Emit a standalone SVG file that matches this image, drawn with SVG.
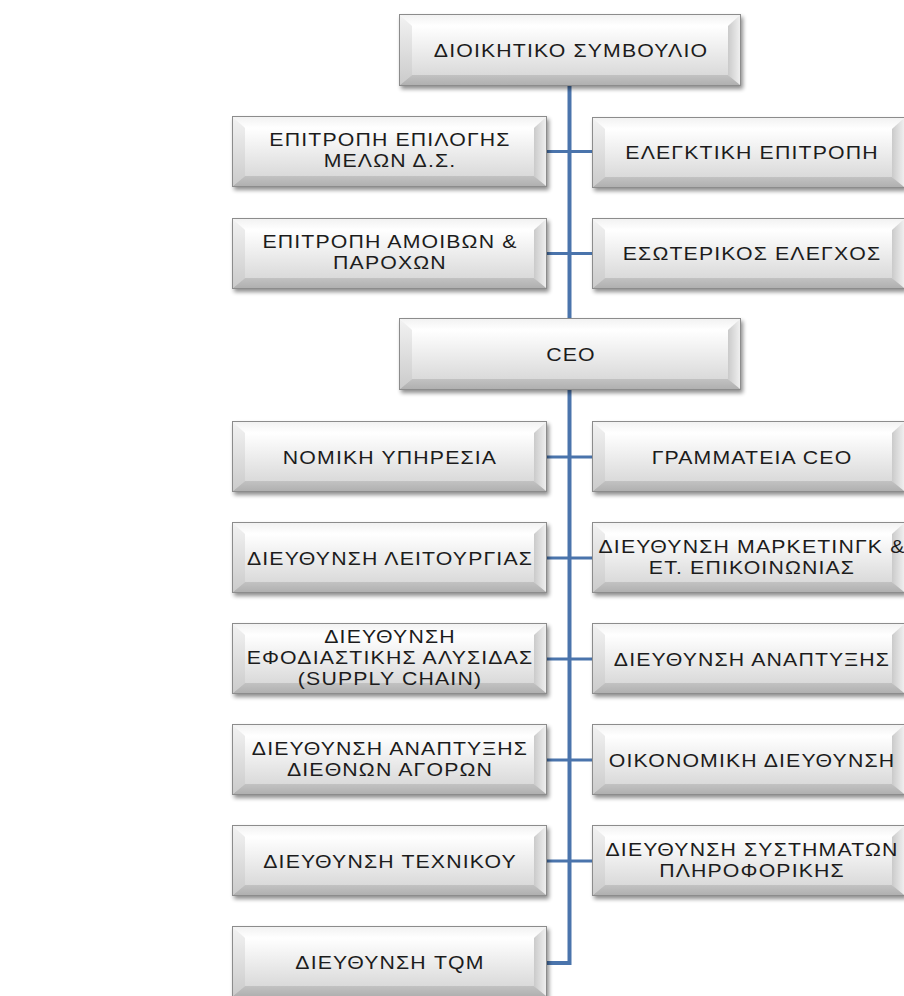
<svg xmlns="http://www.w3.org/2000/svg" xmlns:xlink="http://www.w3.org/1999/xlink" width="904" height="996" viewBox="0 0 904 996">
<defs>
<linearGradient id="face" x1="0" y1="0" x2="0" y2="1"><stop offset="0" stop-color="#ffffff"/><stop offset="1" stop-color="#dadada"/></linearGradient>
<linearGradient id="topF" x1="0" y1="0" x2="0" y2="1"><stop offset="0" stop-color="#f2f2f2"/><stop offset="1" stop-color="#ffffff"/></linearGradient>
<linearGradient id="leftF" x1="0" y1="0" x2="0" y2="1"><stop offset="0" stop-color="#f2f2f2"/><stop offset="1" stop-color="#cbcbcb"/></linearGradient>
<linearGradient id="rightF" x1="0" y1="0" x2="1" y2="0"><stop offset="0" stop-color="#cacaca"/><stop offset="1" stop-color="#efefef"/></linearGradient>
<linearGradient id="botF" x1="0" y1="0" x2="0" y2="1"><stop offset="0" stop-color="#c2c2c2"/><stop offset="1" stop-color="#b0b0b0"/></linearGradient>
<filter id="sh" x="-5%" y="-10%" width="115%" height="140%"><feGaussianBlur in="SourceAlpha" stdDeviation="2"/><feOffset dx="2" dy="3" result="b"/><feComponentTransfer><feFuncA type="linear" slope="0.45"/></feComponentTransfer><feMerge><feMergeNode/><feMergeNode in="SourceGraphic"/></feMerge></filter>
<symbol id="bevL" overflow="visible">
<g filter="url(#sh)">
<rect x="0.5" y="0.5" width="314" height="70" fill="url(#face)" stroke="#8c8c8c"/>
<polygon points="1,1 314,1 302,12 13,12" fill="url(#topF)"/>
<polygon points="1,1 13,12 13,60 1,70" fill="url(#leftF)"/>
<polygon points="314,1 314,70 302,60 302,12" fill="url(#rightF)"/>
<polygon points="1,70 13,60 302,60 314,70" fill="url(#botF)"/>
<rect x="13" y="12" width="289" height="48" fill="url(#face)"/>
</g>
</symbol>
<symbol id="bevR" overflow="visible">
<g filter="url(#sh)">
<rect x="0.5" y="0.5" width="312" height="70" fill="url(#face)" stroke="#8c8c8c"/>
<polygon points="1,1 312,1 300,12 13,12" fill="url(#topF)"/>
<polygon points="1,1 13,12 13,60 1,70" fill="url(#leftF)"/>
<polygon points="312,1 312,70 300,60 300,12" fill="url(#rightF)"/>
<polygon points="1,70 13,60 300,60 312,70" fill="url(#botF)"/>
<rect x="13" y="12" width="287" height="48" fill="url(#face)"/>
</g>
</symbol>
<symbol id="bevC" overflow="visible">
<g filter="url(#sh)">
<rect x="0.5" y="0.5" width="341" height="71" fill="url(#face)" stroke="#8c8c8c"/>
<polygon points="1,1 341,1 329,12 13,12" fill="url(#topF)"/>
<polygon points="1,1 13,12 13,61 1,71" fill="url(#leftF)"/>
<polygon points="341,1 341,71 329,61 329,12" fill="url(#rightF)"/>
<polygon points="1,71 13,61 329,61 341,71" fill="url(#botF)"/>
<rect x="13" y="12" width="316" height="49" fill="url(#face)"/>
</g>
</symbol>
</defs>
<style>
text{font-family:"Liberation Sans",Arial,sans-serif;font-size:18.5px;letter-spacing:1px;fill:#1c1c1c;text-anchor:middle;transform-box:fill-box;transform-origin:center;transform:scaleX(1.15)}
.ln{stroke:#4a74ac;fill:none}
.v{stroke-width:4}
.h{stroke-width:3}
</style>
<rect width="904" height="996" fill="#ffffff"/>
<g id="connectors">
<polyline class="ln v" points="569.5,85 569.5,963 547,963"/>
<line class="ln h" x1="547" y1="151.5" x2="592" y2="151.5"/>
<line class="ln h" x1="547" y1="253.5" x2="592" y2="253.5"/>
<line class="ln h" x1="547" y1="457" x2="592" y2="457"/>
<line class="ln h" x1="547" y1="558" x2="592" y2="558"/>
<line class="ln h" x1="547" y1="659" x2="592" y2="659"/>
<line class="ln h" x1="547" y1="760" x2="592" y2="760"/>
<line class="ln h" x1="547" y1="861" x2="592" y2="861"/>
</g>
<g id="board"><use xlink:href="#bevC" x="399" y="14"/><text x="571" y="57">ΔΙΟΙΚΗΤΙΚΟ ΣΥΜΒΟΥΛΙΟ</text></g>
<g id="selection"><use xlink:href="#bevL" x="232" y="116"/><text x="390" y="146">ΕΠΙΤΡΟΠΗ ΕΠΙΛΟΓΗΣ<tspan x="390" dy="21">ΜΕΛΩΝ Δ.Σ.</tspan></text></g>
<g id="audit"><use xlink:href="#bevR" x="592" y="117"/><text x="752" y="159">ΕΛΕΓΚΤΙΚΗ ΕΠΙΤΡΟΠΗ</text></g>
<g id="remuneration"><use xlink:href="#bevL" x="232" y="218"/><text x="390" y="248">ΕΠΙΤΡΟΠΗ ΑΜΟΙΒΩΝ &amp;<tspan x="390" dy="21">ΠΑΡΟΧΩΝ</tspan></text></g>
<g id="internal-audit"><use xlink:href="#bevR" x="592" y="218"/><text x="752" y="260">ΕΣΩΤΕΡΙΚΟΣ ΕΛΕΓΧΟΣ</text></g>
<g id="ceo"><use xlink:href="#bevC" x="399" y="318"/><text x="571" y="361">CEO</text></g>
<g id="legal"><use xlink:href="#bevL" x="232" y="421"/><text x="390" y="464">ΝΟΜΙΚΗ ΥΠΗΡΕΣΙΑ</text></g>
<g id="secretariat"><use xlink:href="#bevR" x="592" y="421"/><text x="752" y="464">ΓΡΑΜΜΑΤΕΙΑ CEO</text></g>
<g id="operations"><use xlink:href="#bevL" x="232" y="522"/><text x="390" y="565">ΔΙΕΥΘΥΝΣΗ ΛΕΙΤΟΥΡΓΙΑΣ</text></g>
<g id="marketing"><use xlink:href="#bevR" x="592" y="522"/><text x="752" y="553">ΔΙΕΥΘΥΝΣΗ ΜΑΡΚΕΤΙΝΓΚ &amp;<tspan x="752" dy="21">ΕΤ. ΕΠΙΚΟΙΝΩΝΙΑΣ</tspan></text></g>
<g id="supply-chain"><use xlink:href="#bevL" x="232" y="623"/><text x="390" y="643">ΔΙΕΥΘΥΝΣΗ<tspan x="390" dy="21">ΕΦΟΔΙΑΣΤΙΚΗΣ ΑΛΥΣΙΔΑΣ</tspan><tspan x="390" dy="21">(SUPPLY CHAIN)</tspan></text></g>
<g id="development"><use xlink:href="#bevR" x="592" y="623"/><text x="752" y="666">ΔΙΕΥΘΥΝΣΗ ΑΝΑΠΤΥΞΗΣ</text></g>
<g id="intl-markets"><use xlink:href="#bevL" x="232" y="724"/><text x="390" y="755">ΔΙΕΥΘΥΝΣΗ ΑΝΑΠΤΥΞΗΣ<tspan x="390" dy="21">ΔΙΕΘΝΩΝ ΑΓΟΡΩΝ</tspan></text></g>
<g id="finance"><use xlink:href="#bevR" x="592" y="724"/><text x="752" y="767">ΟΙΚΟΝΟΜΙΚΗ ΔΙΕΥΘΥΝΣΗ</text></g>
<g id="technical"><use xlink:href="#bevL" x="232" y="825"/><text x="390" y="868">ΔΙΕΥΘΥΝΣΗ ΤΕΧΝΙΚΟΥ</text></g>
<g id="it"><use xlink:href="#bevR" x="592" y="825"/><text x="752" y="856">ΔΙΕΥΘΥΝΣΗ ΣΥΣΤΗΜΑΤΩΝ<tspan x="752" dy="21">ΠΛΗΡΟΦΟΡΙΚΗΣ</tspan></text></g>
<g id="tqm"><use xlink:href="#bevL" x="232" y="926"/><text x="390" y="969">ΔΙΕΥΘΥΝΣΗ TQM</text></g>
</svg>
